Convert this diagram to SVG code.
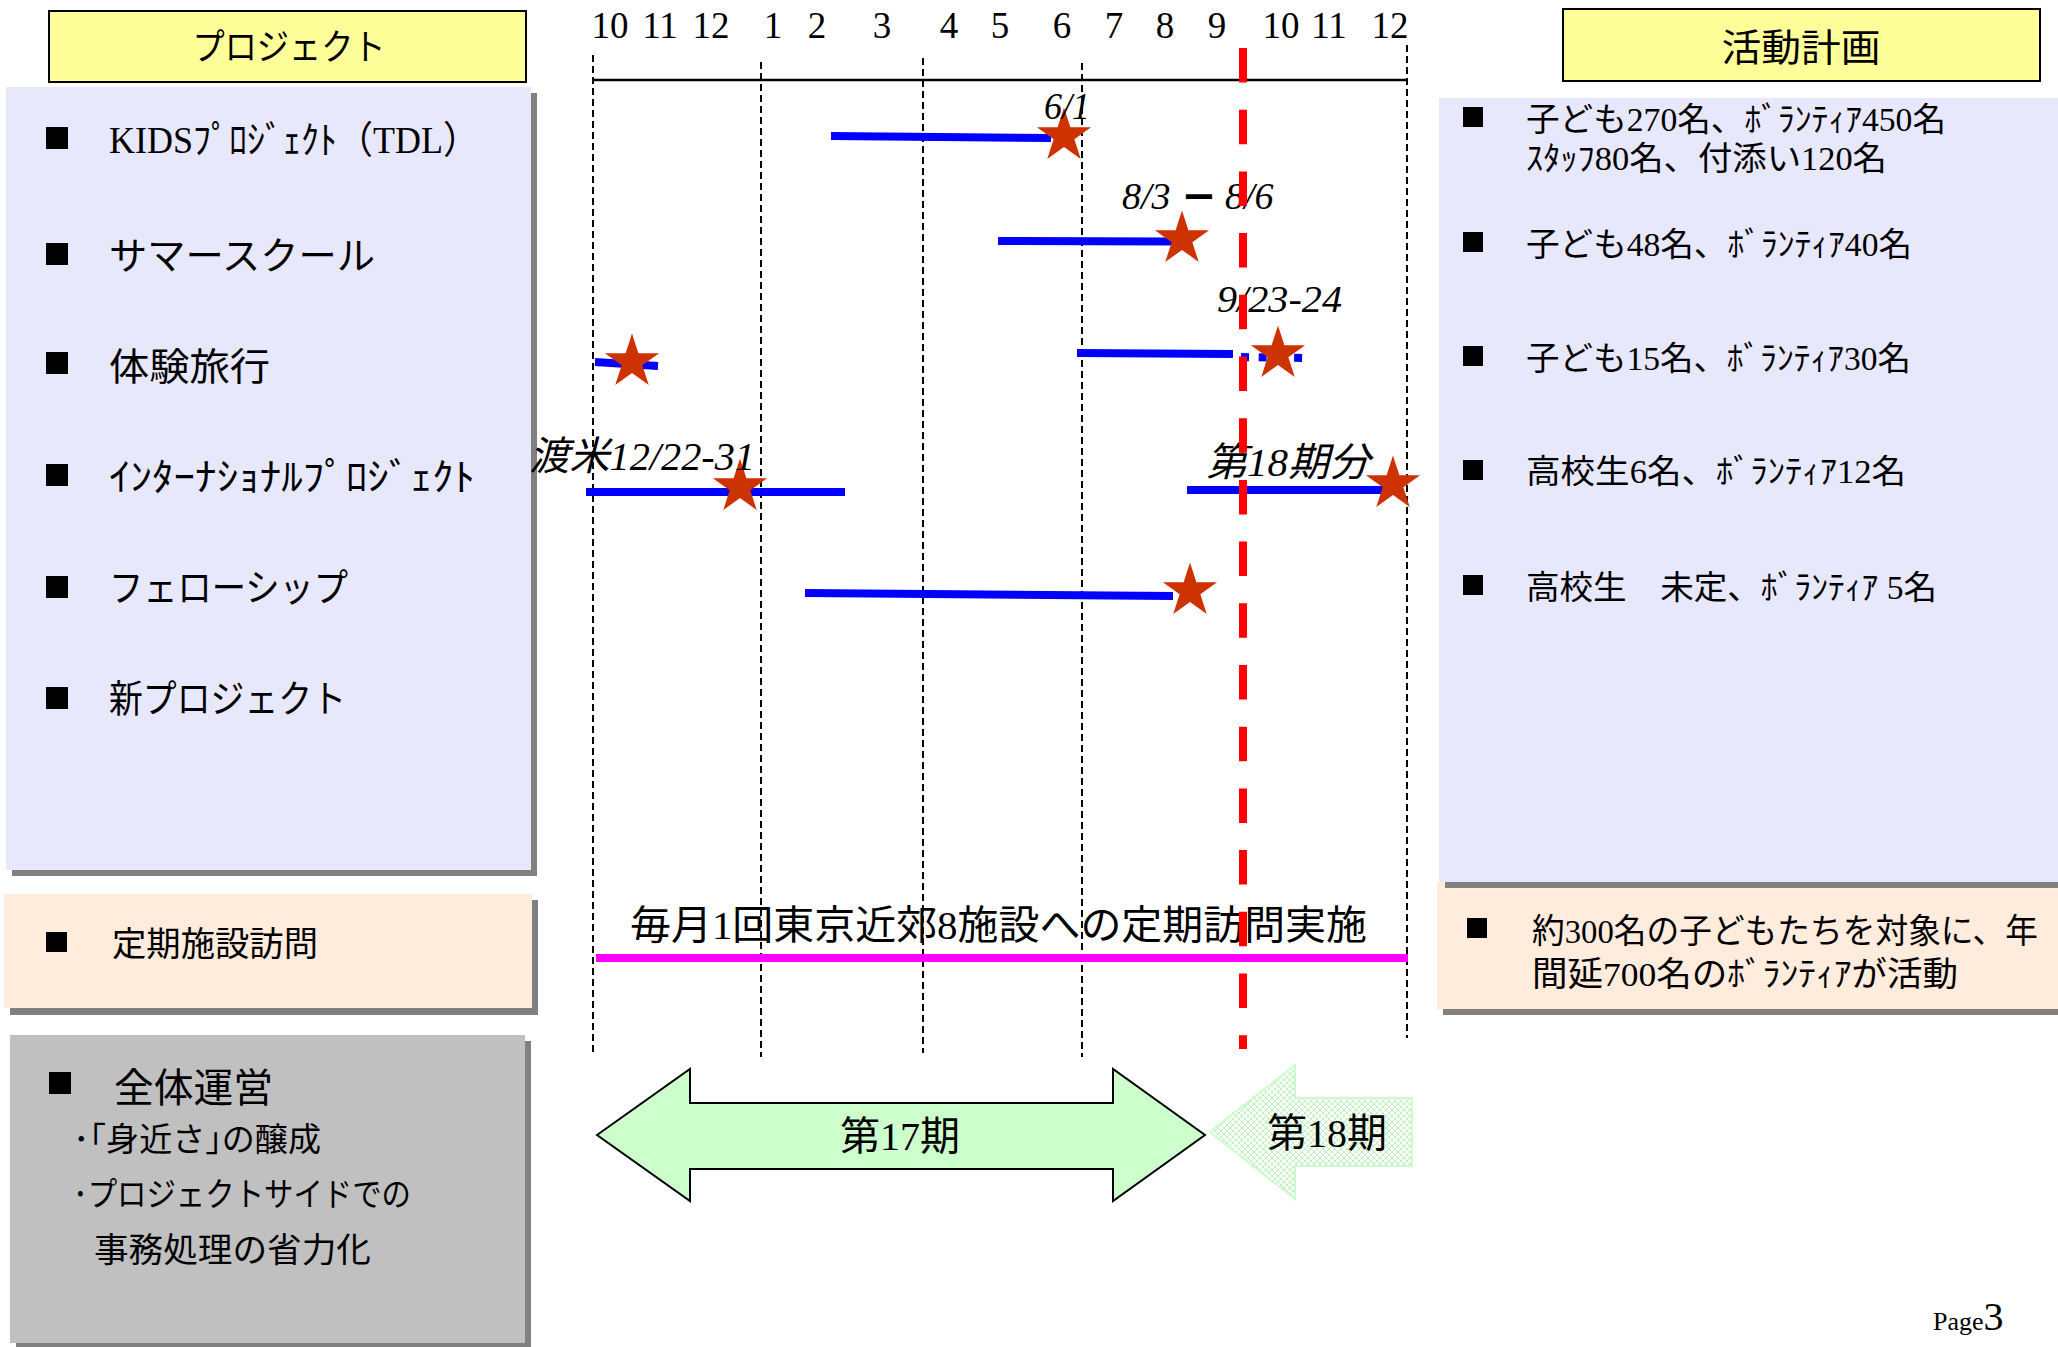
<svg xmlns="http://www.w3.org/2000/svg" width="2058" height="1347" viewBox="0 0 2058 1347">
<defs>
<style>
.t{font-family:'Liberation Serif','Noto Sans CJK JP',serif;fill:#000}
.j{font-family:'Noto Sans CJK JP',sans-serif;fill:#000}
.mo{font-family:'Liberation Serif',serif;font-size:37px;text-anchor:middle;fill:#000}
.lbl{font-family:'Liberation Serif','Noto Sans CJK JP',serif;font-style:italic;fill:#000}
.bar{stroke:#0000FF;stroke-width:8;fill:none}
.grid{stroke:#000;stroke-width:2;stroke-dasharray:7 4;fill:none}
.bul{fill:#000}
.shadow{fill:#808080}
.lav{fill:#E8E8FC}
.peach{fill:#FFECDC}
.hdr{fill:#FFFF99;stroke:#000;stroke-width:2}
</style>
<path id="star" d="M0,-28.5 L6.4,-8.81 L27.1,-8.81 L10.35,3.36 L16.75,23.06 L0,10.89 L-16.75,23.06 L-10.35,3.36 L-27.1,-8.81 L-6.4,-8.81 Z" fill="#CC3300"/>
<pattern id="hatch" width="6" height="6" patternUnits="userSpaceOnUse">
<rect width="6" height="6" fill="#fff"/>
<path d="M0,0 L6,6 M6,0 L0,6" stroke="#BFF2BF" stroke-width="1"/>
</pattern>
</defs>
<rect width="2058" height="1347" fill="#fff"/>

<g id="projects-header">
<rect class="hdr" x="49" y="11" width="477" height="71"/>
<text class="j" x="289" y="60" font-size="36" text-anchor="middle" textLength="193" lengthAdjust="spacingAndGlyphs">プロジェクト</text>
</g>

<g id="projects-panel">
<rect class="shadow" x="12" y="93" width="525" height="783"/>
<rect class="lav" x="6" y="87" width="525" height="783"/>
<rect class="bul" x="46" y="127" width="22" height="22"/>
<text class="t" x="109" y="153" font-size="38" textLength="370" lengthAdjust="spacingAndGlyphs">KIDSﾌﾟﾛｼﾞｪｸﾄ（TDL）</text>
<rect class="bul" x="46" y="243" width="22" height="22"/>
<text class="t" x="109" y="269" font-size="38" textLength="266" lengthAdjust="spacingAndGlyphs">サマースクール</text>
<rect class="bul" x="46" y="352" width="22" height="22"/>
<text class="t" x="109" y="380" font-size="38" textLength="161" lengthAdjust="spacingAndGlyphs">体験旅行</text>
<rect class="bul" x="46" y="464" width="22" height="22"/>
<text class="t" x="109" y="490" font-size="38" textLength="366" lengthAdjust="spacingAndGlyphs">ｲﾝﾀｰﾅｼｮﾅﾙﾌﾟﾛｼﾞｪｸﾄ</text>
<rect class="bul" x="46" y="576" width="22" height="22"/>
<text class="t" x="109" y="601" font-size="38" textLength="239" lengthAdjust="spacingAndGlyphs">フェローシップ</text>
<rect class="bul" x="46" y="687" width="22" height="22"/>
<text class="t" x="109" y="712" font-size="38" textLength="237" lengthAdjust="spacingAndGlyphs">新プロジェクト</text>
</g>

<g id="regular-visit">
<rect class="shadow" x="10" y="900" width="528" height="115"/>
<rect class="peach" x="4" y="894" width="528" height="114"/>
<rect class="bul" x="46" y="932" width="21" height="20"/>
<text class="t" x="112" y="956" font-size="34" textLength="206" lengthAdjust="spacingAndGlyphs">定期施設訪問</text>
</g>

<g id="overall-management">
<rect class="shadow" x="16" y="1041" width="515" height="308"/>
<rect x="10" y="1035" width="515" height="308" fill="#C0C0C0"/>
<rect class="bul" x="49" y="1072" width="22" height="22"/>
<text class="t" x="114" y="1102" font-size="40" textLength="159" lengthAdjust="spacingAndGlyphs">全体運営</text>
<text class="t" x="73" y="1151" font-size="33" textLength="248" lengthAdjust="spacingAndGlyphs">･｢身近さ｣の醸成</text>
<text class="t" x="73" y="1206" font-size="33" textLength="338" lengthAdjust="spacingAndGlyphs">･プロジェクトサイドでの</text>
<text class="t" x="94" y="1262" font-size="34" textLength="277" lengthAdjust="spacingAndGlyphs">事務処理の省力化</text>
</g>

<g id="plan-results">
<rect class="shadow" x="1443" y="888" width="621" height="127"/>
<rect class="peach" x="1437" y="882" width="621" height="127"/>
<rect class="bul" x="1467" y="918" width="20" height="20"/>
<text class="t" x="1532" y="943" font-size="34" textLength="506" lengthAdjust="spacingAndGlyphs">約300名の子どもたちを対象に、年</text>
<text class="t" x="1532" y="986" font-size="34" textLength="426" lengthAdjust="spacingAndGlyphs">間延700名のﾎﾞﾗﾝﾃｨｱが活動</text>
</g>

<g id="plan-panel">
<rect class="shadow" x="1445" y="104" width="619" height="784"/>
<rect class="lav" x="1439" y="98" width="619" height="784"/>
<rect class="bul" x="1463" y="107" width="20" height="20"/>
<text class="t" x="1526" y="131" font-size="33" textLength="420" lengthAdjust="spacingAndGlyphs">子ども270名、ﾎﾞﾗﾝﾃｨｱ450名</text>
<text class="t" x="1526" y="170" font-size="33" textLength="361" lengthAdjust="spacingAndGlyphs">ｽﾀｯﾌ80名、付添い120名</text>
<rect class="bul" x="1463" y="232" width="20" height="20"/>
<text class="t" x="1526" y="256" font-size="33" textLength="386" lengthAdjust="spacingAndGlyphs">子ども48名、ﾎﾞﾗﾝﾃｨｱ40名</text>
<rect class="bul" x="1463" y="346" width="20" height="20"/>
<text class="t" x="1526" y="370" font-size="33" textLength="385" lengthAdjust="spacingAndGlyphs">子ども15名、ﾎﾞﾗﾝﾃｨｱ30名</text>
<rect class="bul" x="1463" y="460" width="20" height="20"/>
<text class="t" x="1526" y="483" font-size="33" textLength="380" lengthAdjust="spacingAndGlyphs">高校生6名、ﾎﾞﾗﾝﾃｨｱ12名</text>
<rect class="bul" x="1463" y="575" width="20" height="20"/>
<text class="t" x="1526" y="599" font-size="33" textLength="411" lengthAdjust="spacingAndGlyphs">高校生　未定、ﾎﾞﾗﾝﾃｨｱ 5名</text>
</g>

<g id="plan-header">
<rect class="hdr" x="1563" y="9" width="477" height="72"/>
<text class="j" x="1801" y="61" font-size="38" text-anchor="middle" textLength="159" lengthAdjust="spacingAndGlyphs">活動計画</text>
</g>

<g id="timeline-axis">
<g id="month-labels">
<text class="mo" x="610" y="38">10</text>
<text class="mo" x="660" y="38">11</text>
<text class="mo" x="711" y="38">12</text>
<text class="mo" x="773" y="38">1</text>
<text class="mo" x="817" y="38">2</text>
<text class="mo" x="882" y="38">3</text>
<text class="mo" x="949" y="38">4</text>
<text class="mo" x="1000" y="38">5</text>
<text class="mo" x="1062" y="38">6</text>
<text class="mo" x="1114" y="38">7</text>
<text class="mo" x="1165" y="38">8</text>
<text class="mo" x="1217" y="38">9</text>
<text class="mo" x="1281" y="38">10</text>
<text class="mo" x="1329" y="38">11</text>
<text class="mo" x="1390" y="38">12</text>
</g>
<line class="grid" x1="593" y1="55" x2="593" y2="1052"/>
<line class="grid" x1="761" y1="62" x2="761" y2="1057"/>
<line class="grid" x1="923" y1="58" x2="923" y2="1053"/>
<line class="grid" x1="1082" y1="63" x2="1082" y2="1057"/>
<line class="grid" x1="1407" y1="45" x2="1407" y2="1038"/>
<line x1="593" y1="80" x2="1407" y2="80" stroke="#000" stroke-width="2.5"/>
</g>

<g id="connectors">
<line class="bar" x1="831" y1="136" x2="1051" y2="138"/>
<line class="bar" x1="998" y1="241" x2="1172" y2="241.5"/>
<line class="bar" x1="1077" y1="353" x2="1233" y2="354"/>
<line class="bar" x1="1241" y1="357" x2="1303" y2="358" stroke-dasharray="8 9.7"/>
<line class="bar" x1="595" y1="362" x2="658" y2="366"/>
<line class="bar" x1="586" y1="492" x2="845" y2="492"/>
<line class="bar" x1="1187" y1="490" x2="1384" y2="490"/>
<line class="bar" x1="805" y1="593" x2="1173" y2="596"/>
<line x1="596" y1="958" x2="1408" y2="958" stroke="#FF00FF" stroke-width="8"/>
</g>

<g id="milestones">
<use href="#star" x="1064" y="136"/>
<use href="#star" x="1182" y="239"/>
<use href="#star" x="1278" y="354"/>
<use href="#star" x="632" y="362"/>
<use href="#star" x="740" y="487"/>
<use href="#star" x="1393" y="484"/>
<use href="#star" x="1190" y="591"/>
</g>

<g id="date-labels">
<text class="lbl" x="1044" y="119" font-size="38" textLength="46" lengthAdjust="spacingAndGlyphs">6/1</text>
<text class="lbl" y="209" font-size="38"><tspan x="1122">8/3 </tspan><tspan x="1183" font-family="'Noto Sans CJK JP',sans-serif" font-weight="bold" font-style="normal" font-size="32">ー </tspan><tspan x="1225">8/6</tspan></text>
<text class="lbl" x="1217" y="312" font-size="38" textLength="125" lengthAdjust="spacingAndGlyphs">9/23-24</text>
<text class="lbl" x="529" y="470" font-size="40" textLength="226" lengthAdjust="spacingAndGlyphs">渡米12/22-31</text>
<text class="lbl" x="1206" y="476" font-size="40" textLength="164" lengthAdjust="spacingAndGlyphs">第18期分</text>
</g>

<g id="regular-visit-bar">
<text class="t" x="630" y="939" font-size="40" textLength="737" lengthAdjust="spacingAndGlyphs">毎月1回東京近郊8施設への定期訪問実施</text>
</g>

<g id="today-line">
<line x1="1243" y1="48" x2="1243" y2="1049" stroke="#FF0000" stroke-width="8" stroke-dasharray="34.5 27.2"/>
</g>

<g id="term-17">
<polygon points="597,1135 690,1069 690,1103 1113,1103 1113,1069 1205,1135 1113,1201 1113,1169 690,1169 690,1201" fill="#CCFFCC" stroke="#000" stroke-width="2"/>
<text class="t" x="900" y="1150" font-size="40" text-anchor="middle">第17期</text>
</g>

<g id="term-18">
<polygon points="1210,1132 1295,1065 1295,1098 1412,1098 1412,1166 1295,1166 1295,1199" fill="url(#hatch)" stroke="#CCFFCC" stroke-width="2"/>
<text class="t" x="1327" y="1147" font-size="40" text-anchor="middle">第18期</text>
</g>

<g id="page-number">
<text class="t" x="1933" y="1330"><tspan font-size="26">Page</tspan><tspan font-size="40">3</tspan></text>
</g>
</svg>
